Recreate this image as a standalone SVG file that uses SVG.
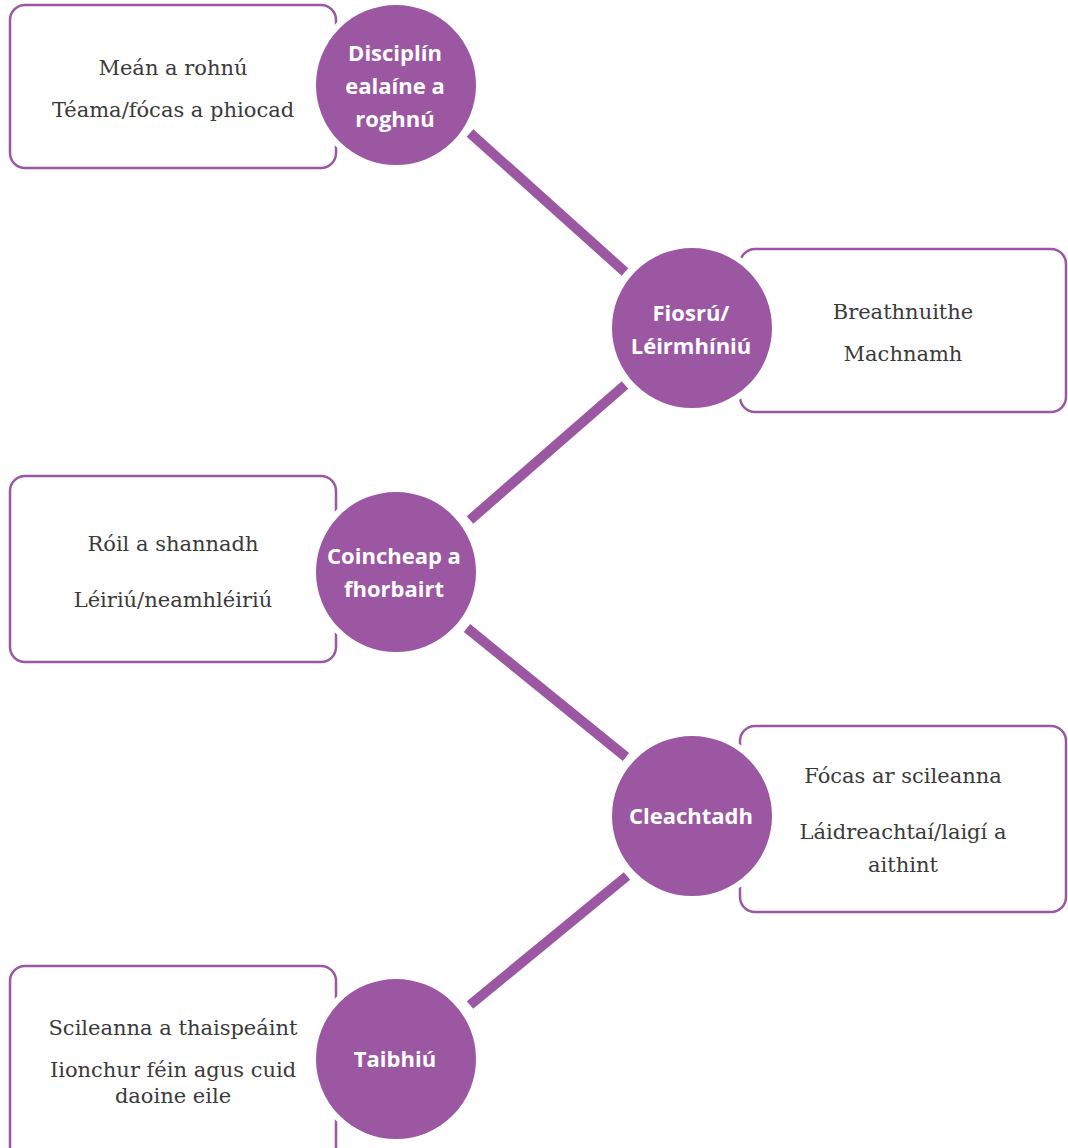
<svg xmlns="http://www.w3.org/2000/svg" width="1068" height="1148" viewBox="0 0 1068 1148">
<style>
.box{fill:#ffffff;stroke:#9c57a3;stroke-width:2.5}
.circ{fill:#9c57a3;stroke:#ffffff;stroke-width:6}
.bt{font-family:"DejaVu Serif","Liberation Serif",serif;font-size:21px;font-weight:300;fill:#3a3a3a;text-anchor:middle}
.ct{font-family:"Open Sans","Noto Sans",sans-serif;font-size:22px;font-weight:700;fill:#ffffff;text-anchor:middle}
.conn{stroke:#9c57a3;stroke-width:10;fill:none}
</style>
<rect width="1068" height="1148" fill="#ffffff"/>
<g id="connectors">
<line class="conn" x1="470" y1="133" x2="625" y2="272"/>
<line class="conn" x1="625" y1="385" x2="470" y2="520"/>
<line class="conn" x1="467" y1="628" x2="626" y2="757"/>
<line class="conn" x1="627" y1="876" x2="470" y2="1005"/>
</g>
<g id="node1">
<rect class="box" x="10" y="5" width="326" height="163" rx="15"/>
<circle class="circ" cx="396" cy="85" r="83"/>
<text class="bt" x="173" y="75">Meán a rohnú</text>
<text class="bt" x="173" y="117">Téama/fócas a phiocad</text>
<text class="ct" x="395" y="61">Disciplín</text>
<text class="ct" x="395" y="94">ealaíne a</text>
<text class="ct" x="395" y="127">roghnú</text>
</g>
<g id="node2">
<rect class="box" x="740" y="249" width="326" height="163" rx="15"/>
<circle class="circ" cx="692" cy="328" r="83"/>
<text class="bt" x="903" y="319">Breathnuithe</text>
<text class="bt" x="903" y="361">Machnamh</text>
<text class="ct" x="691" y="321">Fiosrú/</text>
<text class="ct" x="691" y="354">Léirmhíniú</text>
</g>
<g id="node3">
<rect class="box" x="10" y="476" width="326" height="186" rx="15"/>
<circle class="circ" cx="396" cy="572" r="83"/>
<text class="bt" x="173" y="551">Róil a shannadh</text>
<text class="bt" x="173" y="607">Léiriú/neamhléiriú</text>
<text class="ct" x="394" y="564">Coincheap a</text>
<text class="ct" x="394" y="597">fhorbairt</text>
</g>
<g id="node4">
<rect class="box" x="740" y="726" width="326" height="186" rx="15"/>
<circle class="circ" cx="692" cy="816" r="83"/>
<text class="bt" x="903" y="783">Fócas ar scileanna</text>
<text class="bt" x="903" y="839">Láidreachtaí/laigí a</text>
<text class="bt" x="903" y="872">aithint</text>
<text class="ct" x="691" y="824">Cleachtadh</text>
</g>
<g id="node5">
<rect class="box" x="10" y="966" width="326" height="200" rx="15"/>
<circle class="circ" cx="396" cy="1059" r="83"/>
<text class="bt" x="173" y="1035">Scileanna a thaispeáint</text>
<text class="bt" x="173" y="1077">Iionchur féin agus cuid</text>
<text class="bt" x="173" y="1103">daoine eile</text>
<text class="ct" x="395" y="1067">Taibhiú</text>
</g>
</svg>
